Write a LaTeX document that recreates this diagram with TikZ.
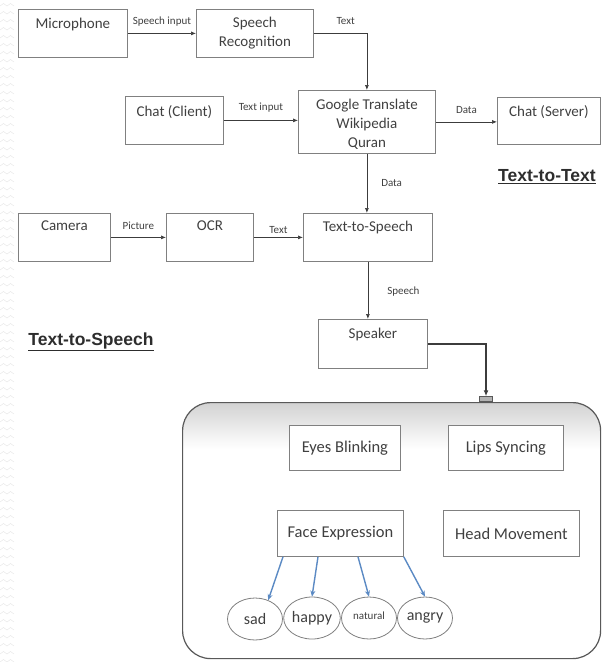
\documentclass[tikz,border=0pt]{standalone}
\usepackage{fontspec}
\setmainfont{Carlito}
\newfontfamily\headfont{Liberation Sans}
\usepackage{xcolor}
\definecolor{frame-line}{HTML}{808080}
\definecolor{ink-text}{HTML}{404040}
\definecolor{wire-line}{HTML}{3C3C3C}
\definecolor{mood-blue}{HTML}{5B8AC4}
\usepackage{tikz}
\usetikzlibrary{arrows.meta,shapes.geometric}

\pgfdeclareverticalshading{panelfade}{100bp}{color(0bp)=(white); color(66bp)=(white); color(75bp)=(gray!35); color(100bp)=(gray!35)}

\tikzset{
    block/.style={draw=frame-line, line width=0.8pt, anchor=north west, minimum height=48pt, inner sep=0pt},
    blocktext/.style={anchor=north, inner sep=0pt, yshift=-9pt, align=center, text=ink-text, font=\fontsize{15}{19}\selectfont},
    part/.style={draw=frame-line, line width=0.8pt, fill=white, anchor=north west, minimum height=46pt, text=ink-text, font=\fontsize{16.5}{20}\selectfont},
    mood/.style={ellipse, draw=frame-line, line width=0.8pt, fill=white, minimum width=55pt, minimum height=42pt, inner sep=0pt, text=ink-text, font=\fontsize{16}{18}\selectfont},
    wire/.style={draw=wire-line, line width=0.7pt, -{Latex[length=5pt,width=4pt]}},
    wirelabel/.style={text=ink-text, font=\fontsize{11}{12}\selectfont, inner sep=0pt},
    moodwire/.style={draw=mood-blue, line width=1.4pt, -{Stealth[length=6pt,width=5pt]}},
    heading/.style={text=ink-text!70!black, font=\headfont\bfseries\fontsize{17.5}{20}\selectfont},
    panel/.style={draw=gray!70!black, line width=1.2pt, rounded corners=28pt, shading=panelfade, anchor=north west},
    tabbox/.style={draw=gray!70!black, fill=gray!60, line width=0.5pt, minimum width=13pt, minimum height=5pt, inner sep=0pt},
}

\begin{document}
\begin{tikzpicture}[x=1pt, y=-1pt]

    % Page
    \useasboundingbox (0,0) rectangle (606,662);
    \foreach \y in {6,14,...,662}
        \draw[gray!18, line width=0.5pt] (0,\y) -- (3.5,\y-2.5) -- (7,\y) -- (10.5,\y-2.5) -- (14,\y);

    % Text-to-Text
    \node[block, minimum width=109pt, label={[blocktext]north:Microphone}] (mic) at (18,9) {};
    \node[block, minimum width=117pt, label={[blocktext, yshift=1pt]north:Speech\\Recognition}] (rec) at (196,9) {};
    \node[block, minimum width=98pt, label={[blocktext]north:Chat (Client)}] (client) at (125,96) {};
    \node[block, minimum width=137pt, minimum height=63pt, label={[blocktext]north:Google Translate\\Wikipedia\\Quran}] (hub) at (298,90) {};
    \node[block, minimum width=103pt, minimum height=47pt, label={[blocktext, yshift=1pt]north:Chat (Server)}] (server) at (497,97) {};

    \draw[wire] (mic.east) -- node[wirelabel, above=7pt] {Speech input} (rec.west);
    \draw[wire] (rec.east) -| node[wirelabel, pos=0.3, above=8pt] {Text} (hub.north);
    \draw[wire] (client.east) -- node[wirelabel, above=8pt] {Text input} (client.east -| hub.west);
    \draw[wire] (hub.east) -- node[wirelabel, above=8pt] {Data} (hub.east -| server.west);

    \node[heading] (ttthead) at (547,177) {\underline{Text-to-Text}};

    % Text-to-Speech
    \node[block, minimum width=92pt, label={[blocktext, yshift=1pt]north:Camera}] (camera) at (18,213) {};
    \node[block, minimum width=87pt, label={[blocktext, yshift=1pt]north:OCR}] (ocr) at (166,213) {};
    \node[block, minimum width=129pt, label={[blocktext, yshift=1pt]north:Text-to-Speech}] (tts) at (303,213) {};
    \node[block, minimum width=109pt, minimum height=49pt, label={[blocktext]north:Speaker}] (spk) at (318,319) {};

    \draw[wire] (camera.east) -- node[wirelabel, above=7pt] {Picture} (ocr.west);
    \draw[wire] (ocr.east) -- node[wirelabel, above=3pt] {Text} (tts.west);
    \draw[wire] (hub.south) -- node[wirelabel, pos=0.5, right=14pt] {Data} (hub.south |- tts.north);
    \draw[wire] (tts.south) -- node[wirelabel, pos=0.52, right=19pt] {Speech} (tts.south |- spk.north);

    \node[heading] (ttshead) at (91,342) {\underline{Text-to-Speech}};

    % Avatar
    \node[panel, minimum width=418pt, minimum height=256pt] (panel) at (182,402) {};
    \node[tabbox] (tab) at (486,399) {};
    \draw[draw=wire-line, line width=1.8pt, -{Latex[length=6pt,width=5pt]}] (spk.east) -| (tab.north);

    \node[part, minimum width=111pt, minimum height=45pt] (eyes) at (289,425) {Eyes Blinking};
    \node[part, minimum width=115pt, minimum height=45pt] (lips) at (448,425) {Lips Syncing};
    \node[part, minimum width=126pt] (face) at (277,510) {Face Expression};
    \node[part, minimum width=136pt] (head) at (443,510) {Head Movement};

    \node[mood] (sad) at (255,619) {sad};
    \node[mood] (happy) at (312,618) {happy};
    \node[mood, font=\fontsize{11}{12}\selectfont] (natural) at (369,618) {\raisebox{5pt}{natural}};
    \node[mood] (angry) at (425,618) {angry};

    \draw[moodwire] ([xshift=6pt]face.south west) -- (sad.55);
    \draw[moodwire] ([xshift=41pt]face.south west) -- (happy.north);
    \draw[moodwire] ([xshift=81pt]face.south west) -- (natural.north);
    \draw[moodwire] (face.south east) -- (angry.north);

\end{tikzpicture}
\end{document}
